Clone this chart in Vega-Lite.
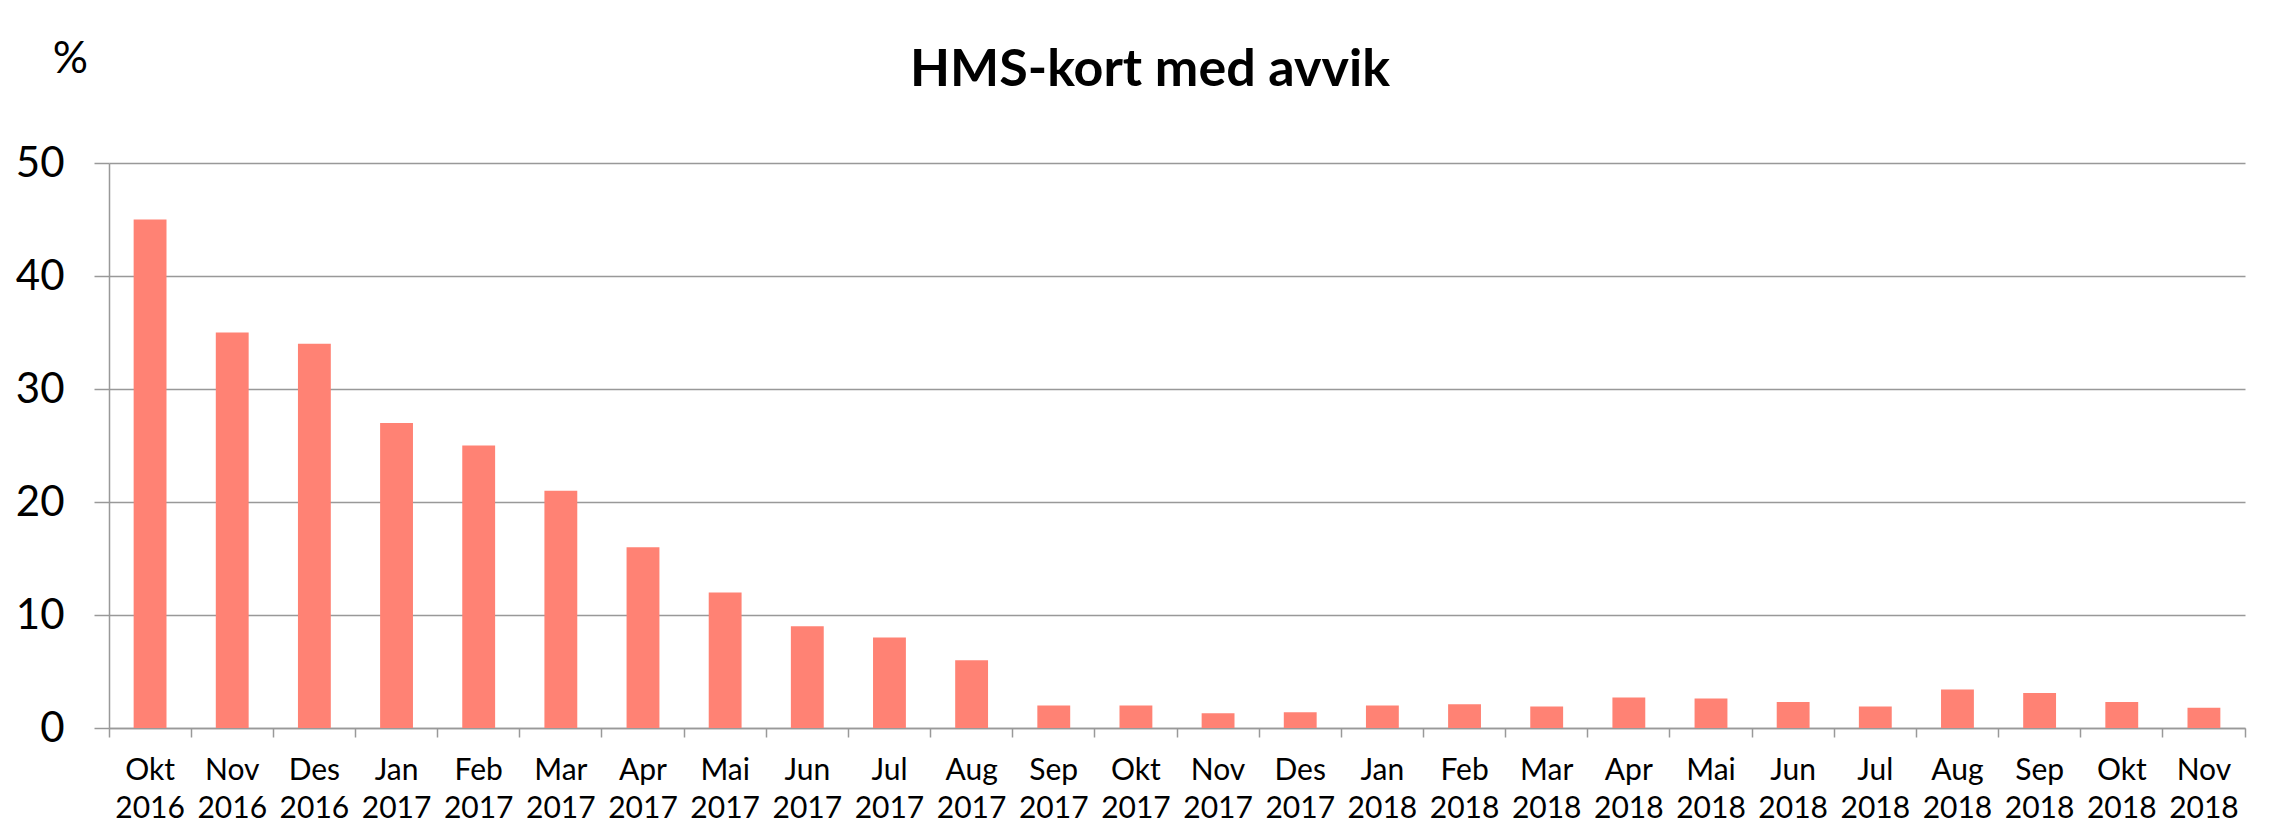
{
  "$schema": "https://vega.github.io/schema/vega-lite/v6.json",
  "width": 2136,
  "height": 565,
  "autosize": {"type": "none"},
  "padding": {"left": 109, "top": 163, "right": 25, "bottom": 101},
  "background": "white",
  "title": {
    "text": "HMS-kort med avvik",
    "font": "Lato",
    "fontSize": 52,
    "fontWeight": "bold",
    "color": "black",
    "anchor": "middle",
    "frame": "group",
    "dx": -27,
    "dy": 121,
    "baseline": "alphabetic",
    "offset": 20
  },
  "data": {
    "values": [
      {"month": "Okt 2016", "value": 45},
      {"month": "Nov 2016", "value": 35},
      {"month": "Des 2016", "value": 34},
      {"month": "Jan 2017", "value": 27},
      {"month": "Feb 2017", "value": 25},
      {"month": "Mar 2017", "value": 21},
      {"month": "Apr 2017", "value": 16},
      {"month": "Mai 2017", "value": 12},
      {"month": "Jun 2017", "value": 9},
      {"month": "Jul 2017", "value": 8},
      {"month": "Aug 2017", "value": 6},
      {"month": "Sep 2017", "value": 2},
      {"month": "Okt 2017", "value": 2},
      {"month": "Nov 2017", "value": 1.3},
      {"month": "Des 2017", "value": 1.4},
      {"month": "Jan 2018", "value": 2},
      {"month": "Feb 2018", "value": 2.1},
      {"month": "Mar 2018", "value": 1.9},
      {"month": "Apr 2018", "value": 2.7},
      {"month": "Mai 2018", "value": 2.6},
      {"month": "Jun 2018", "value": 2.3},
      {"month": "Jul 2018", "value": 1.9},
      {"month": "Aug 2018", "value": 3.4},
      {"month": "Sep 2018", "value": 3.1},
      {"month": "Okt 2018", "value": 2.3},
      {"month": "Nov 2018", "value": 1.8}
    ]
  },
  "mark": {"type": "bar", "color": "#FF8274", "width": {"band": 0.4}},
  "encoding": {
    "x": {
      "field": "month",
      "type": "nominal",
      "sort": null,
      "scale": {"paddingInner": 0, "paddingOuter": 0},
      "axis": {
        "title": null,
        "labelAngle": 0,
        "labelExpr": "split(datum.label, ' ')",
        "labelFont": "Lato",
        "labelFontSize": 30,
        "labelColor": "black",
        "labelLineHeight": 38,
        "labelBaseline": "top",
        "labelPadding": 18,
        "labelAlign": "center",
        "bandPosition": 1,
        "tickExtra": true,
        "tickSize": 9,
        "tickColor": "#999999",
        "tickWidth": 1.5,
        "domainColor": "#999999",
        "domainWidth": 1.5,
        "grid": false
      }
    },
    "y": {
      "field": "value",
      "type": "quantitative",
      "scale": {"domain": [0, 50]},
      "axis": {
        "values": [0, 10, 20, 30, 40, 50],
        "title": "%",
        "titleAngle": 0,
        "titleX": -39,
        "titleY": -91,
        "titleAlign": "center",
        "titleBaseline": "alphabetic",
        "titleFont": "Lato",
        "titleFontSize": 44,
        "titleFontWeight": "normal",
        "titleColor": "black",
        "labelFont": "Lato",
        "labelFontSize": 42,
        "labelColor": "black",
        "labelPadding": 30,
        "tickSize": 15,
        "tickColor": "#999999",
        "tickWidth": 1.5,
        "domainColor": "#999999",
        "domainWidth": 1.5,
        "grid": true,
        "gridColor": "#999999",
        "gridWidth": 1.5
      }
    }
  },
  "config": {"view": {"stroke": null}}
}
